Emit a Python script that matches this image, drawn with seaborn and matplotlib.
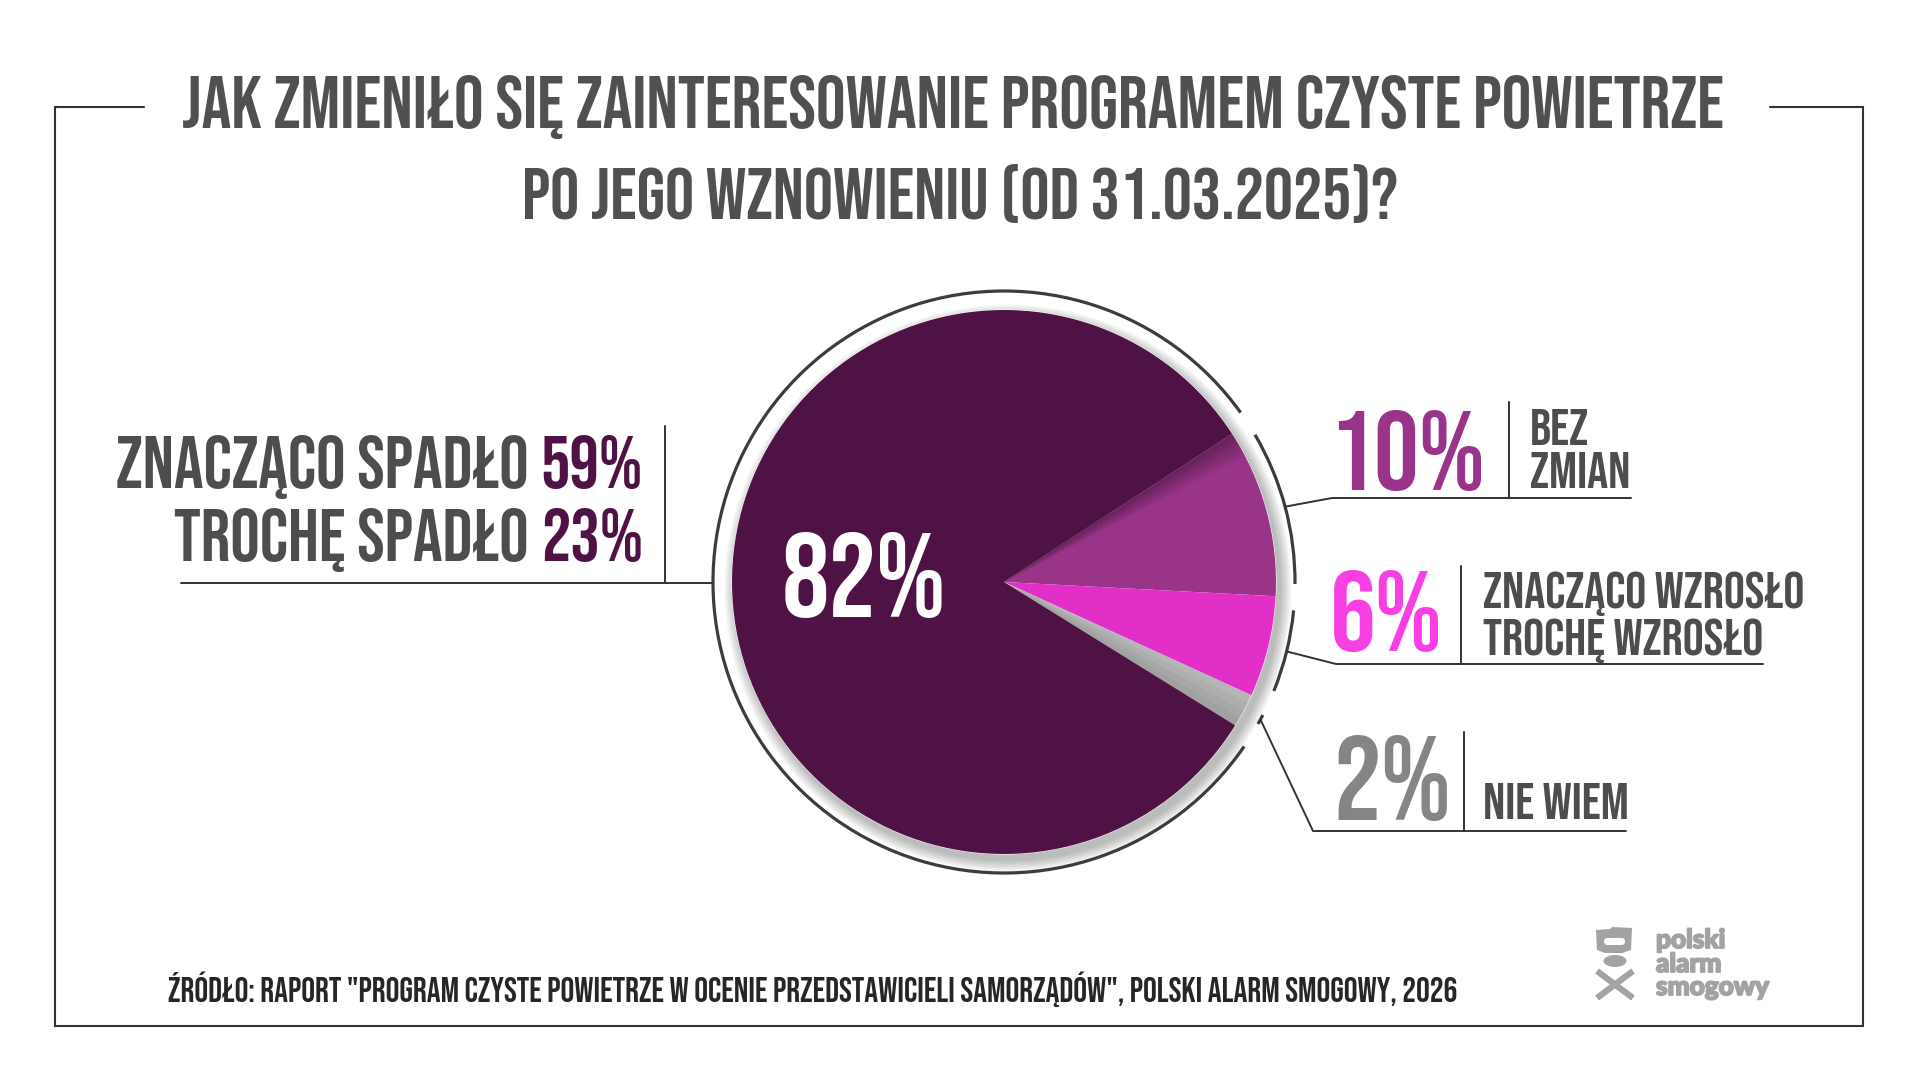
import os
import matplotlib
matplotlib.use("Agg")
import matplotlib.pyplot as plt
import matplotlib.patheffects as pe
import seaborn as sns
import numpy as np
from matplotlib import font_manager as fm
from matplotlib.font_manager import FontProperties
from matplotlib.textpath import TextPath
from matplotlib.patches import Arc, Circle, Wedge, Polygon, Ellipse, FancyBboxPatch

# ---------------- data ----------------
title_lines = ["JAK ZMIENIŁO SIĘ ZAINTERESOWANIE PROGRAMEM CZYSTE POWIETRZE",
               "PO JEGO WZNOWIENIU (OD 31.03.2025)?"]
categories = ["BEZ ZMIAN", "WZROSŁO", "NIE WIEM", "SPADŁO"]
shares = [10, 6, 2, 82]
right_labels = [["BEZ", "ZMIAN"], ["ZNACZĄCO WZROSŁO", "TROCHĘ WZROSŁO"], ["NIE WIEM"]]
drop_labels = ["ZNACZĄCO SPADŁO", "TROCHĘ SPADŁO"]
drop_values = [59, 23]
source_text = ('ŹRÓDŁO: RAPORT "PROGRAM CZYSTE POWIETRZE W OCENIE PRZEDSTAWICIELI '
               'SAMORZĄDÓW", POLSKI ALARM SMOGOWY, 2026')
logo_lines = ["polski", "alarm", "smogowy"]

slice_colors = sns.color_palette(["#993489", "#e22fc8", "#b5b5b5", "#4e1244"])
value_colors = ["#993489", "#f73fe3", "#858585"]
DARK = "#4e1244"
GRAY_TXT = "#4d4d4d"
LINE = "#333333"

sns.set_theme(style="white")
plt.rcParams["font.family"] = ["Liberation Sans", "DejaVu Sans"]

# ---------------- fonts ----------------
def find_font(patterns):
    files = [f.fname for f in fm.fontManager.ttflist]
    for p in patterns:
        for fn in files:
            b = os.path.basename(fn).lower()
            if "italic" in b or "oblique" in b:
                continue
            if b.startswith(p):
                return fn
    return None

bold_file = find_font(["bebasneue", "oswald-bold", "oswald-semibold", "robotocondensed-bold.",
                       "notosans-extracondensedbold.", "notosans-condensedbold.",
                       "liberationsansnarrow-bold.", "dejavusanscondensed-bold."])
reg_file = find_font(["bebasneue", "oswald-regular", "robotocondensed-regular.",
                      "notosans-extracondensed.", "notosans-condensed.",
                      "liberationsansnarrow-regular.", "dejavusanscondensed."])
logo_file = find_font(["lato-black.", "lato-heavy.", "lato-extrabold.", "lato-bold.",
                       "opensans-extrabold.", "opensans-bold.", "roboto-black.", "roboto-bold.",
                       "dejavusans-bold."])
FP_B = FontProperties(fname=bold_file) if bold_file else FontProperties(family="Liberation Sans", weight="bold")
FP_R = FontProperties(fname=reg_file) if reg_file else FontProperties(family="Liberation Sans")
FP_LOGO = FontProperties(fname=logo_file) if logo_file else FontProperties(family="DejaVu Sans", weight="bold")

# ---------------- figure ----------------
W, H = 1920, 1080
fig = plt.figure(figsize=(19.2, 10.8), dpi=100)
fig.patch.set_facecolor("white")
ax = fig.add_axes([0, 0, 1, 1])
renderer = fig.canvas.get_renderer()

def Y(y):
    return H - y

def cap_ratio(fp):
    return TextPath((0, 0), "H", size=100, prop=fp).get_extents().height / 100.0

def prop(fp, size):
    p = fp.copy()
    p.set_size(size)
    return p

def text_w(s, fp, size):
    t = ax.text(0, 0, s, fontproperties=prop(fp, size))
    w = t.get_window_extent(renderer).width
    t.remove()
    return w

def group_size(fp, items):
    cr = cap_ratio(fp)
    best = None
    for s, cap_px, max_w in items:
        size = cap_px / cr * 0.72
        w = text_w(s, fp, size)
        if max_w is not None and w > max_w:
            size *= max_w / w
        best = size if best is None else min(best, size)
    return best

def width_size(fp, s, target_w, cap_min, cap_max):
    cr = cap_ratio(fp)
    size = cap_min / cr * 0.72
    size *= target_w / text_w(s, fp, size)
    return float(np.clip(size, cap_min / cr * 0.72, cap_max / cr * 0.72))

# ---------------- pie ----------------
cx, cy, R, RR = 1004, 582, 272, 291
START = 33

# soft shadow
for i in range(8):
    ax.add_patch(Circle((cx + 4, Y(cy) - 6), R + 1 + i * 1.5, color="black",
                        alpha=0.035, lw=0, zorder=1))
ax.add_patch(Circle((cx, Y(cy)), R + 0.5, color="white", lw=0, zorder=1.5))

wedges, _ = ax.pie(shares, colors=slice_colors, startangle=START, counterclock=False,
                   center=(cx, Y(cy)), radius=R, frame=True,
                   wedgeprops=dict(linewidth=0))
for w_ in wedges:
    w_.set_zorder(2)

bounds = [START]
for v in shares:
    bounds.append(bounds[-1] - v * 3.6)

# shading in the 10% slice near the dark slice
for k in range(1, 7):
    ax.add_patch(Wedge((cx, Y(cy)), R, bounds[0] - k * 0.9, bounds[0], color="black",
                       alpha=0.055, lw=0, zorder=2.5))
# subtle shading of the grey slice
for k in range(1, 4):
    ax.add_patch(Wedge((cx, Y(cy)), R, bounds[3], bounds[2] - (bounds[2] - bounds[3]) * k / 4,
                       color="black", alpha=0.035, lw=0, zorder=2.5))

# outer ring segmented per slice
gap = 2.6
for i in range(len(shares)):
    t_hi, t_lo = bounds[i], bounds[i + 1]
    a1, a2 = t_lo + gap, t_hi - gap
    if i == len(shares) - 1:
        a1, a2 = bounds[0] + gap, bounds[i] + 360 - gap
    ax.add_patch(Arc((cx, Y(cy)), 2 * RR, 2 * RR, theta1=a1, theta2=a2,
                     color="#3c3c3c", lw=2.3, zorder=3))

# ---------------- frame ----------------
ax.plot([144, 55, 55, 1863, 1863, 1770], [Y(107), Y(107), Y(1026), Y(1026), Y(107), Y(107)],
        color=LINE, lw=1.5, solid_joinstyle="miter", zorder=3)

# ---------------- title ----------------
ts1 = width_size(FP_B, title_lines[0], 1543, 49, 54)
ts2 = group_size(FP_B, [(title_lines[1], 51, 880)])
ax.text(953, Y(128), title_lines[0], fontproperties=prop(FP_B, ts1), color="#505050",
        ha="center", va="baseline", zorder=4)
ax.text(960, Y(219), title_lines[1], fontproperties=prop(FP_B, ts2), color="#505050",
        ha="center", va="baseline", zorder=4)

# ---------------- leader lines & right labels ----------------
lw_l = 1.4
elbows = [(1332, 498), (1336, 664), (1313, 831)]
ends = [1631, 1763, 1626]
seps = [(1509, 402), (1461, 566), (1464, 732)]
for i in range(3):
    mid = (bounds[i] + bounds[i + 1]) / 2.0
    sx = cx + RR * np.cos(np.radians(mid))
    sy = cy - RR * np.sin(np.radians(mid))
    ex, ey = elbows[i]
    ax.plot([sx, ex, ends[i]], [Y(sy), Y(ey), Y(ey)], color=LINE, lw=lw_l, zorder=3)
    vx, vy = seps[i]
    ax.plot([vx, vx], [Y(vy), Y(ey)], color=LINE, lw=lw_l, zorder=3)

# big percentages
pct_caps = [87, 80, 86]
pct_maxw = [156, 118, 118]
pct_pos = [(1329, 490), (1330, 651), (1333, 820)]
for i in range(3):
    ps = group_size(FP_B, [(f"{shares[i]}%", pct_caps[i], pct_maxw[i])])
    ax.text(pct_pos[i][0], Y(pct_pos[i][1]), f"{shares[i]}%", fontproperties=prop(FP_B, ps),
            color=value_colors[i], ha="left", va="baseline", zorder=4)

# small category labels
ls = group_size(FP_B, [("ZMIAN", 37, 106), ("ZNACZĄCO WZROSŁO", 38, 326), ("NIE WIEM", 37, 146)])
lab_pos = [[(1530, 445), (1530, 488)], [(1483, 608), (1483, 655)], [(1483, 819)]]
for i, lines in enumerate(right_labels):
    for j, s in enumerate(lines):
        x, y = lab_pos[i][j]
        ax.text(x, Y(y), s, fontproperties=prop(FP_B, ls), color=GRAY_TXT,
                ha="left", va="baseline", zorder=4)

# ---------------- left labels ----------------
ax.plot([181, cx - RR], [Y(583), Y(583)], color=LINE, lw=lw_l, zorder=3)
ax.plot([665, 665], [Y(426), Y(583)], color=LINE, lw=lw_l, zorder=3)
lsz = group_size(FP_B, [(f"{drop_labels[0]} {drop_values[0]}%", 53, 531),
                        (f"{drop_labels[1]} {drop_values[1]}%", 53, 469)])
space_w = text_w("H H", FP_B, lsz) - text_w("HH", FP_B, lsz)
for lab, val, yb in zip(drop_labels, drop_values, [488, 561]):
    pct = f"{val}%"
    wp = text_w(pct, FP_B, lsz)
    ax.text(643, Y(yb), pct, fontproperties=prop(FP_B, lsz), color=DARK,
            ha="right", va="baseline", zorder=4)
    ax.text(643 - wp - space_w, Y(yb), lab, fontproperties=prop(FP_B, lsz), color=GRAY_TXT,
            ha="right", va="baseline", zorder=4)

# 82% inside
bs = group_size(FP_B, [(f"{shares[3]}%", 83, 170)])
ax.text(864, Y(617), f"{shares[3]}%", fontproperties=prop(FP_B, bs), color="white",
        ha="center", va="baseline", zorder=4)

# ---------------- source ----------------
ss = group_size(FP_R, [(source_text, 26, 1293)])
ax.text(168, Y(1002), source_text, fontproperties=prop(FP_R, ss), color="#262626",
        ha="left", va="baseline", zorder=4)

# ---------------- logo ----------------
LG = "#a3a3a3"
ax.add_patch(Polygon([(1596, Y(930)), (1610, Y(929)), (1612, Y(927)), (1632, Y(928)),
                      (1631, Y(950)), (1622, Y(953)), (1605, Y(953)), (1597, Y(950))],
                     closed=True, color=LG, lw=0, zorder=4))
ax.add_patch(FancyBboxPatch((1604, Y(945)), 21, 7, boxstyle="round,pad=0,rounding_size=3.5",
                            color="white", lw=0, zorder=5))
ax.add_patch(Ellipse((1615, Y(961)), 23, 12, color=LG, lw=0, zorder=4))
ax.plot([1597, 1633], [Y(971), Y(998)], color=LG, lw=4.5, solid_capstyle="butt", zorder=4)
ax.plot([1633, 1597], [Y(971), Y(998)], color=LG, lw=4.5, solid_capstyle="butt", zorder=4)
lgs = width_size(FP_LOGO, "smogowy", 116, 14, 19)
for s, yb in zip(logo_lines, [948, 972, 995]):
    ax.text(1656, Y(yb), s, fontproperties=prop(FP_LOGO, lgs), color=LG,
            ha="left", va="baseline", zorder=4,
            path_effects=[pe.withStroke(linewidth=1.3, foreground=LG)])

ax.set_xlim(0, W)
ax.set_ylim(0, H)
ax.set_aspect("equal")
ax.axis("off")
fig.savefig("out.png", dpi=100, facecolor="white")
